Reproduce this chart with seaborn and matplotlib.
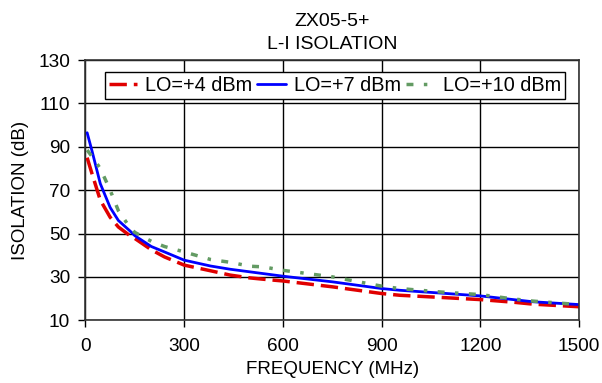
import numpy as np
import pandas as pd
import matplotlib
matplotlib.use('Agg')
import matplotlib.pyplot as plt
import seaborn as sns

# frequency grid (MHz) and isolation readings (dB)
freq = [5, 20, 45, 75, 100, 135, 150, 200, 240, 300, 380, 440, 500, 540,
        600, 750, 900, 955, 1080, 1200, 1300, 1360, 1500]
lo_4 = [85.0, 77.5, 65.4, 57.5, 53.0, 49.0, 47.7, 42.5, 39.2, 35.4, 32.8, 30.8,
        29.5, 28.9, 28.1, 25.4, 22.3, 21.5, 20.5, 19.5, 18.3, 17.4, 16.2]
lo_7 = [96.5, 88.0, 73.0, 62.0, 56.0, 51.2, 49.0, 44.0, 41.5, 37.7, 35.0, 33.5,
        32.3, 31.5, 30.3, 27.7, 24.6, 23.8, 22.5, 21.2, 19.5, 18.5, 17.2]
lo_10 = [88.5, 85.5, 80.0, 70.0, 60.5, 52.8, 50.5, 46.4, 44.0, 41.5, 38.0, 36.7,
         34.9, 34.6, 33.0, 30.0, 25.7, 24.6, 23.0, 21.8, 19.8, 18.8, 17.2]
labels = ['LO=+4 dBm', 'LO=+7 dBm', 'LO=+10 dBm']

sns.set_style('white')
plt.rcParams['font.family'] = ['Liberation Sans', 'DejaVu Sans']
plt.rcParams['text.color'] = 'black'
plt.rcParams['axes.labelcolor'] = 'black'

df = pd.DataFrame({'freq': freq, labels[0]: lo_4, labels[1]: lo_7, labels[2]: lo_10})

fig = plt.figure(figsize=(6.02, 3.83), dpi=100)
ax = fig.add_axes([0.142, 0.164, 0.820, 0.679])

sns.lineplot(x='freq', y=labels[0], data=df, ax=ax, color='#e00000',
             linewidth=2.5, label=labels[0])
sns.lineplot(x='freq', y=labels[1], data=df, ax=ax, color='#0000ff',
             linewidth=2, label=labels[1])
sns.lineplot(x='freq', y=labels[2], data=df, ax=ax, color='#639b63',
             linewidth=2.5, label=labels[2])
ax.lines[0].set_dashes([5, 2])
ax.lines[2].set_dashes([2, 3, 1, 3])

ax.set_xlim(0, 1500)
ax.set_ylim(10, 130)
ax.set_xticks(np.arange(0, 1501, 300))
ax.set_yticks(np.arange(10, 131, 20))
ax.grid(True, color='black', linewidth=1)
for s in ax.spines.values():
    s.set_color('#333333')
    s.set_linewidth(1.2)
ax.tick_params(axis='both', direction='out', length=5, width=1, colors='black',
               labelsize=13.7, left=True, bottom=True)
ax.tick_params(axis='x', pad=8)
ax.tick_params(axis='y', pad=6)

ax.set_xlabel('FREQUENCY (MHz)', fontsize=13.5, labelpad=4)
ax.set_ylabel('ISOLATION (dB)', fontsize=13.5, labelpad=7)
ax.set_title('ZX05-5+\nL-I ISOLATION', fontsize=14, linespacing=1.45, pad=8)

leg = ax.legend(loc='upper center', ncol=3, fontsize=14.3, frameon=True,
                fancybox=False, edgecolor='black', framealpha=1,
                handlelength=1.45, handletextpad=0.4, columnspacing=0.25,
                borderpad=0.2, borderaxespad=0, bbox_to_anchor=(0.505, 0.955))
leg.get_frame().set_linewidth(1)

plt.savefig('out.png', dpi=100)
